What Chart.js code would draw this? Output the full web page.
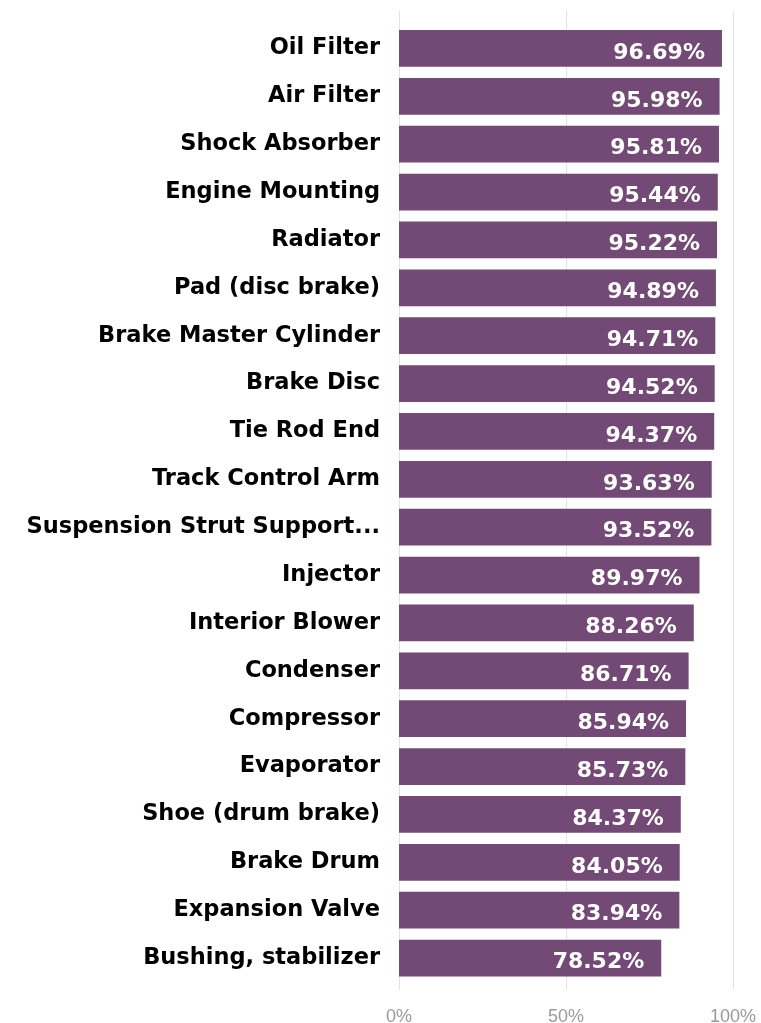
<!DOCTYPE html>
<html>
<head>
<meta charset="utf-8">
<script src="https://cdn.jsdelivr.net/npm/chart.js@4"></script>
<style>
  html, body { margin: 0; padding: 0; background: #fff; }
  #wrap { width: 761px; height: 1023px; }
</style>
</head>
<body>
<div id="wrap"><canvas id="chart" width="761" height="1023"></canvas></div>
<script>
const parts = [
  'Oil Filter', 'Air Filter', 'Shock Absorber', 'Engine Mounting', 'Radiator',
  'Pad (disc brake)', 'Brake Master Cylinder', 'Brake Disc', 'Tie Rod End', 'Track Control Arm',
  'Suspension Strut Support...', 'Injector', 'Interior Blower', 'Condenser', 'Compressor',
  'Evaporator', 'Shoe (drum brake)', 'Brake Drum', 'Expansion Valve', 'Bushing, stabilizer'
];
const shares = [
  96.69, 95.98, 95.81, 95.44, 95.22,
  94.89, 94.71, 94.52, 94.37, 93.63,
  93.52, 89.97, 88.26, 86.71, 85.94,
  85.73, 84.37, 84.05, 83.94, 78.52
];
const xTicks = [0, 50, 100];

// vertical gridlines, a bit taller than the plot area like the original
const gridLines = {
  id: 'gridLines',
  beforeDatasetsDraw(chart) {
    const ctx = chart.ctx;
    const x = chart.scales.x;
    const area = chart.chartArea;
    ctx.save();
    ctx.strokeStyle = '#e3e3e3';
    ctx.lineWidth = 1;
    xTicks.forEach(v => {
      const px = Math.round(x.getPixelForValue(v)) + 0.5;
      ctx.beginPath();
      ctx.moveTo(px, area.top - 14);
      ctx.lineTo(px, area.bottom + 8);
      ctx.stroke();
    });
    ctx.restore();
  }
};

// white value text inside the right end of each bar
const valueLabels = {
  id: 'valueLabels',
  afterDatasetsDraw(chart) {
    const ctx = chart.ctx;
    const meta = chart.getDatasetMeta(0);
    ctx.save();
    ctx.fillStyle = '#ffffff';
    ctx.font = 'bold 22px "DejaVu Sans", Verdana, sans-serif';
    ctx.textAlign = 'right';
    ctx.textBaseline = 'middle';
    meta.data.forEach((bar, i) => {
      ctx.fillText(shares[i].toFixed(2) + '%', bar.x - 17, bar.y + 4.5);
    });
    ctx.restore();
  }
};

new Chart(document.getElementById('chart'), {
  type: 'bar',
  data: {
    labels: parts,
    datasets: [{
      data: shares,
      backgroundColor: '#734a75',
      borderWidth: 0,
      barPercentage: 0.77,
      categoryPercentage: 1.0
    }]
  },
  options: {
    indexAxis: 'y',
    responsive: false,
    animation: false,
    layout: { padding: { top: 18, right: 28, bottom: 0, left: 0 } },
    plugins: { legend: { display: false }, tooltip: { enabled: false } },
    scales: {
      x: {
        min: 0,
        max: 100,
        afterBuildTicks(axis) { axis.ticks = xTicks.map(v => ({ value: v })); },
        afterFit(axis) {
          axis.height = 41;
          axis.paddingLeft = 0;
          axis.paddingRight = 0;
        },
        grid: { display: false },
        border: { display: false },
        ticks: {
          padding: 16,
          color: '#9a9a9a',
          font: { family: '"Liberation Sans", Arial, sans-serif', size: 18 },
          callback: v => v + '%'
        }
      },
      y: {
        afterFit(axis) { axis.width = 399; },
        grid: { display: false },
        border: { display: false },
        ticks: {
          padding: 11,
          color: '#000000',
          font: { family: '"DejaVu Sans", Verdana, sans-serif', size: 22.5, weight: 'bold' }
        }
      }
    }
  },
  plugins: [gridLines, valueLabels]
});
</script>
</body>
</html>
